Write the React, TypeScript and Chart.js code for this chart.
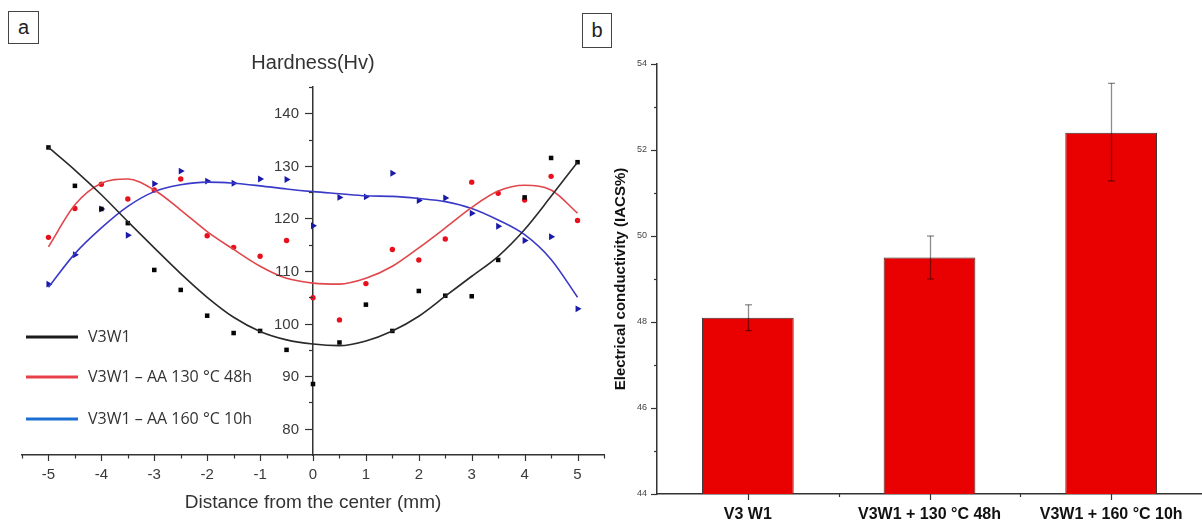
import React, { useEffect, useRef } from "react";
import { Chart, registerables } from "chart.js";

Chart.register(...registerables);

// ---------- Panel a: hardness profiles ----------
const distances = [-5, -4.5, -4, -3.5, -3, -2.5, -2, -1.5, -1, -0.5, 0, 0.5, 1, 1.5, 2, 2.5, 3, 3.5, 4, 4.5, 5];
const v3w1Points = [133.5, 126.2, 121.8, 119.1, 110.2, 106.4, 101.5, 98.2, 98.6, 95.0, 88.5, 96.4, 103.6, 98.6, 106.2, 105.3, 105.2, 112.1, 124.0, 131.5, 130.7];
const aa130Points = [116.4, 121.9, 126.5, 123.7, 125.4, 127.5, 116.7, 114.5, 112.8, 115.8, 104.9, 100.7, 107.6, 114.1, 112.1, 116.1, 126.9, 124.8, 123.5, 128.0, 119.6];
const aa160Points = [107.5, 113.1, 121.8, 116.8, 126.6, 129.0, 127.1, 126.7, 127.5, 127.4, 118.6, 124.0, 124.1, 128.6, 123.4, 123.9, 121.0, 118.5, 115.8, 116.5, 102.8];
const v3w1Fit = [133.5, 129.2, 124.5, 119.4, 114.4, 109.5, 105.0, 101.2, 98.5, 96.9, 96.1, 95.8, 96.7, 98.6, 101.4, 105.2, 109.0, 112.8, 117.9, 124.2, 130.7];
const aa130Fit = [114.6, 122.6, 126.7, 127.5, 125.4, 121.6, 117.5, 114.1, 110.9, 108.6, 107.7, 107.5, 108.6, 110.9, 114.4, 118.2, 122.1, 125.2, 126.3, 125.4, 121.0];
const aa160Fit = [106.9, 113.3, 118.2, 122.3, 125.1, 126.4, 126.9, 126.7, 126.2, 125.6, 125.1, 124.7, 124.3, 124.2, 123.8, 123.2, 121.9, 119.7, 116.9, 112.2, 105.0];
const seriesLabels = ["V3W1", "V3W1 \u2013 AA 130 \u00B0C 48h", "V3W1 \u2013 AA 160 \u00B0C 10h"];
const hardnessTicks = [80, 90, 100, 110, 120, 130, 140];
const hardnessMinorTicks = [85, 95, 105, 115, 125, 135, 145];
const distanceTicks = [-5, -4, -3, -2, -1, 0, 1, 2, 3, 4, 5];
const distanceMinorTicks = [-5.5, -4.5, -3.5, -2.5, -1.5, -0.5, 0.5, 1.5, 2.5, 3.5, 4.5, 5.5];

// ---------- Panel b: electrical conductivity ----------
const conductivityCategories = ["V3 W1", "V3W1 + 130 \u00B0C 48h", "V3W1 + 160 \u00B0C 10h"];
const conductivityValues = [48.1, 49.5, 52.4];
const conductivityErrLow = [47.8, 49.0, 51.28];
const conductivityErrHigh = [48.4, 50.0, 53.55];
const conductivityTicks = [44, 46, 48, 50, 52, 54];
const conductivityMinorTicks = [45, 47, 49, 51, 53];

const FONT = "'Liberation Sans', Arial, sans-serif";
const fitColors = ["#2a2a2a", "#e0464b", "#3a3ac8"];
const pointColors = ["#050505", "#e8101c", "#1a1aa8"];
const legendColors = ["#1a1a1a", "#e8404a", "#1a6fd0"];

const toXY = (ys: number[]) => distances.map((d, i) => ({ x: d, y: ys[i] }));

const hardnessDecor = {
  id: "hardnessDecor",
  afterDraw(chart: any) {
    const { ctx, scales } = chart;
    const x = scales.x;
    const y = scales.y;
    const x0 = x.getPixelForValue(0);
    const yb = y.bottom;
    ctx.save();
    ctx.strokeStyle = "#333";
    ctx.lineWidth = 1.2;
    const line = (a: number, b: number, c: number, d: number) => {
      ctx.beginPath();
      ctx.moveTo(a, b);
      ctx.lineTo(c, d);
      ctx.stroke();
    };
    ctx.font = "15px " + FONT;
    ctx.fillStyle = "#3a3a3a";
    ctx.textAlign = "right";
    ctx.textBaseline = "middle";
    hardnessTicks.forEach((v) => {
      const py = Math.round(y.getPixelForValue(v)) + 0.5;
      line(x0 - 8, py, x0, py);
      ctx.fillText(String(v), x0 - 14, py + 0.5);
    });
    hardnessMinorTicks.forEach((v) => {
      const py = Math.round(y.getPixelForValue(v)) + 0.5;
      line(x0 - 4, py, x0, py);
    });
    distanceTicks.forEach((v) => {
      const px = Math.round(x.getPixelForValue(v)) + 0.5;
      line(px, yb, px, yb + 6);
    });
    distanceMinorTicks.forEach((v) => {
      const px = Math.round(x.getPixelForValue(v)) + 0.5;
      line(px, yb, px, yb + 3.5);
    });
    // legend
    const legendY = [337, 377, 419];
    ctx.font = "16px 'Open Sans', sans-serif";
    ctx.textBaseline = "middle";
    ctx.textAlign = "left";
    seriesLabels.forEach((lab, i) => {
      ctx.strokeStyle = legendColors[i];
      ctx.lineWidth = 3;
      line(26, legendY[i], 78, legendY[i]);
      ctx.fillStyle = "#333";
      ctx.fillText(lab, 88, legendY[i]);
    });
    ctx.restore();
  },
};

const conductivityDecor = {
  id: "conductivityDecor",
  afterDraw(chart: any) {
    const { ctx, scales } = chart;
    const x = scales.x;
    const y = scales.y;
    const xl = x.left;
    const yb = y.bottom;
    ctx.save();
    ctx.strokeStyle = "#333";
    ctx.lineWidth = 1.2;
    const line = (a: number, b: number, c: number, d: number) => {
      ctx.beginPath();
      ctx.moveTo(a, b);
      ctx.lineTo(c, d);
      ctx.stroke();
    };
    conductivityTicks.forEach((v) => {
      const py = Math.round(y.getPixelForValue(v)) + 0.5;
      line(xl - 6, py, xl, py);
    });
    conductivityMinorTicks.forEach((v) => {
      const py = Math.round(y.getPixelForValue(v)) + 0.5;
      line(xl - 3, py, xl, py);
    });
    conductivityCategories.forEach((_, i) => {
      const px = Math.round(x.getPixelForValue(i)) + 0.5;
      line(px, yb, px, yb + 6);
      if (i > 0) {
        const pb = Math.round(x.getPixelForValue(i - 0.5)) + 0.5;
        line(pb, yb, pb, yb + 3);
      }
    });
    // error bars
    const meta = chart.getDatasetMeta(0);
    ctx.strokeStyle = "rgba(0,0,0,0.45)";
    ctx.lineWidth = 1.3;
    meta.data.forEach((bar: any, i: number) => {
      const px = Math.round(bar.x) + 0.5;
      const lo = y.getPixelForValue(conductivityErrLow[i]);
      const hi = y.getPixelForValue(conductivityErrHigh[i]);
      line(px, lo, px, hi);
      line(px - 3.5, lo, px + 3.5, lo);
      line(px - 3.5, hi, px + 3.5, hi);
    });
    ctx.restore();
  },
};

export default function App() {
  const refA = useRef<HTMLCanvasElement>(null);
  const refB = useRef<HTMLCanvasElement>(null);

  useEffect(() => {
    const chartA = new Chart(refA.current as HTMLCanvasElement, {
      type: "scatter",
      data: {
        datasets: [
          { label: seriesLabels[0], data: toXY(v3w1Fit), showLine: true, pointRadius: 0, borderColor: fitColors[0], borderWidth: 1.6, cubicInterpolationMode: "monotone" } as any,
          { label: seriesLabels[1], data: toXY(aa130Fit), showLine: true, pointRadius: 0, borderColor: fitColors[1], borderWidth: 1.6, cubicInterpolationMode: "monotone" } as any,
          { label: seriesLabels[2], data: toXY(aa160Fit), showLine: true, pointRadius: 0, borderColor: fitColors[2], borderWidth: 1.6, cubicInterpolationMode: "monotone" } as any,
          { label: seriesLabels[0] + " data", data: toXY(v3w1Points), pointStyle: "rect", pointRadius: 3.2, backgroundColor: pointColors[0], borderColor: pointColors[0], borderWidth: 0 },
          { label: seriesLabels[1] + " data", data: toXY(aa130Points), pointStyle: "circle", pointRadius: 2.7, backgroundColor: pointColors[1], borderColor: pointColors[1], borderWidth: 0 },
          { label: seriesLabels[2] + " data", data: toXY(aa160Points), pointStyle: "triangle", rotation: 90, pointRadius: 4, backgroundColor: pointColors[2], borderColor: pointColors[2], borderWidth: 0 } as any,
        ],
      },
      options: {
        responsive: false,
        animation: false,
        devicePixelRatio: 1,
        layout: { padding: { left: 22, right: 22, top: 0, bottom: 0 } },
        plugins: {
          legend: { display: false },
          tooltip: { enabled: false },
          title: {
            display: true,
            text: "Hardness(Hv)",
            color: "#333",
            font: { family: FONT, size: 20, weight: "normal" },
            padding: { top: 51, bottom: 12 },
          },
        },
        scales: {
          x: {
            type: "linear",
            position: "bottom",
            min: -5.5,
            max: 5.5,
            afterBuildTicks: (s: any) => {
              s.ticks = distanceTicks.map((v) => ({ value: v }));
            },
            afterFit: (s: any) => {
              s.height = 67;
            },
            grid: { drawOnChartArea: false, drawTicks: false },
            border: { color: "#333", width: 1.5 },
            ticks: { color: "#3a3a3a", font: { family: FONT, size: 15 }, padding: 11, maxRotation: 0 },
            title: {
              display: true,
              text: "Distance from the center (mm)",
              color: "#333",
              font: { family: FONT, size: 19 },
              padding: { top: 0, bottom: 8 },
            },
          },
          y: {
            type: "linear",
            position: { x: 0 } as any,
            min: 75,
            max: 145,
            afterBuildTicks: (s: any) => {
              s.ticks = hardnessTicks.map((v) => ({ value: v }));
            },
            grid: { drawOnChartArea: false, drawTicks: false },
            border: { color: "#333", width: 1.5 },
            ticks: { display: false },
          },
        },
      },
      plugins: [hardnessDecor],
    });

    const chartB = new Chart(refB.current as HTMLCanvasElement, {
      type: "bar",
      data: {
        labels: conductivityCategories,
        datasets: [
          {
            label: "Electrical conductivity",
            data: conductivityValues,
            backgroundColor: "rgb(233,0,0)",
            borderColor: "#333",
            borderWidth: 1,
            barPercentage: 0.505,
            categoryPercentage: 1,
          },
        ],
      },
      options: {
        responsive: false,
        animation: false,
        devicePixelRatio: 1,
        layout: { padding: { left: 0, right: 0, top: 64, bottom: 0 } },
        plugins: { legend: { display: false }, tooltip: { enabled: false } },
        scales: {
          x: {
            afterFit: (s: any) => {
              s.height = 28;
            },
            grid: { display: false, drawTicks: false },
            border: { color: "#333", width: 1.5 },
            ticks: { color: "#111", font: { family: FONT, size: 16, weight: "bold" }, padding: 11, maxRotation: 0 },
          },
          y: {
            min: 44,
            max: 54,
            afterBuildTicks: (s: any) => {
              s.ticks = conductivityTicks.map((v) => ({ value: v }));
            },
            afterFit: (s: any) => {
              s.width = 77;
            },
            grid: { drawOnChartArea: false, drawTicks: false },
            border: { color: "#333", width: 1.5 },
            ticks: { color: "#444", font: { family: FONT, size: 9 }, padding: 10 },
            title: {
              display: true,
              text: "Electrical conductivity (IACS%)",
              color: "#111",
              font: { family: FONT, size: 15, weight: "bold" },
              padding: { top: 32, bottom: 0 },
            },
          },
        },
      },
      plugins: [conductivityDecor],
    });

    return () => {
      chartA.destroy();
      chartB.destroy();
    };
  }, []);

  const boxStyle: React.CSSProperties = {
    position: "absolute",
    border: "1.5px solid #444",
    boxSizing: "border-box",
    display: "flex",
    alignItems: "center",
    justifyContent: "center",
    fontFamily: FONT,
    fontSize: 20,
    color: "#222",
    background: "#fff",
  };

  return (
    <div style={{ position: "fixed", left: 0, top: 0, width: 1202, height: 522, background: "#fff", overflow: "hidden" }}>
      <div style={{ position: "absolute", left: 0, top: 0, width: 626, height: 522 }}>
        <canvas ref={refA} width={626} height={522} style={{ width: 626, height: 522, display: "block" }} />
      </div>
      <div style={{ position: "absolute", left: 580, top: 0, width: 622, height: 522 }}>
        <canvas ref={refB} width={622} height={522} style={{ width: 622, height: 522, display: "block" }} />
      </div>
      <div style={{ ...boxStyle, left: 8, top: 11, width: 31, height: 33 }}>a</div>
      <div style={{ ...boxStyle, left: 582, top: 13, width: 30, height: 35 }}>b</div>
    </div>
  );
}
